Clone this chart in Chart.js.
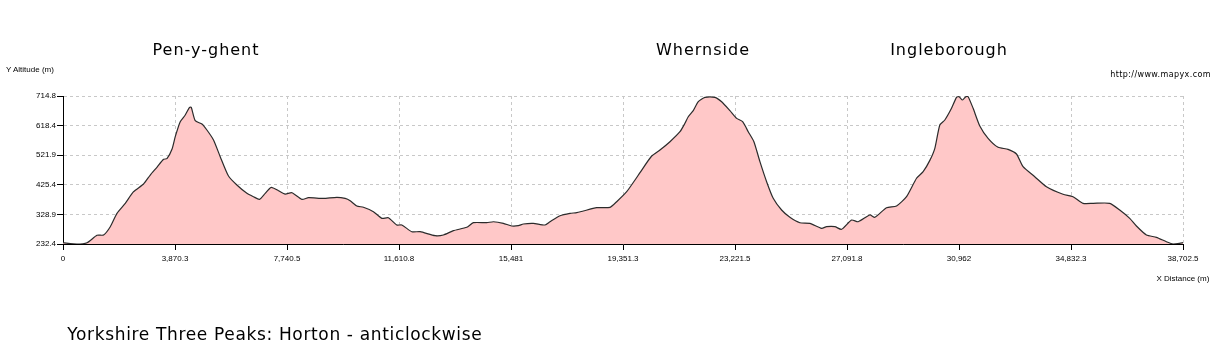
<!DOCTYPE html>
<html>
<head>
<meta charset="utf-8">
<script src="https://cdn.jsdelivr.net/npm/chart.js@4"></script>
<style>
  body { margin: 0; background: #fff; }
  #wrap { position: relative; width: 1219px; height: 350px; }
  #profile { position: absolute; left: 0; top: 0; }
  .txt { position: absolute; white-space: nowrap; line-height: 1; color: #000; }
  .small { font-family: "Liberation Sans", sans-serif; font-size: 8px; }
  .peak { font-family: "DejaVu Sans", sans-serif; font-size: 16px; letter-spacing: 1px; transform: translateX(-50%); }
</style>
</head>
<body>
<div id="wrap">
  <canvas id="profile" width="1219" height="350"></canvas>
  <div class="txt small" style="left:6px; top:65.9px;">Y Altitude (m)</div>
  <div class="txt" style="right:8px; top:70.5px; font-family:'DejaVu Sans',sans-serif; font-size:8px; letter-spacing:0.4px;">http://www.mapyx.com</div>
  <div class="txt small" style="right:9.7px; top:274.9px;">X Distance (m)</div>
  <div class="txt peak" style="left:206px; top:42.2px;">Pen-y-ghent</div>
  <div class="txt peak" style="left:703px; top:42.2px;">Whernside</div>
  <div class="txt peak" style="left:949px; top:42.2px;">Ingleborough</div>
  <div class="txt" style="left:67.3px; top:326.3px; font-family:'DejaVu Sans',sans-serif; font-size:17px; letter-spacing:0.65px;">Yorkshire Three Peaks: Horton - anticlockwise</div>
</div>
<script>
// Route profile: distance along the route (m) and altitude (m)
const distances = [
  0, 483, 829, 1174, 1402, 1634, 1865, 2152, 2438, 2784, 3015, 3246, 3474, 3592, 3765, 3879,
  4051, 4224, 4372, 4431, 4569, 4801, 4973, 5201, 5433, 5719, 6009, 6355, 6583, 6790, 6987,
  7194, 7446, 7678, 7909, 8254, 8482, 9000, 9463, 9750, 9923, 10154, 10382, 10727, 11017,
  11245, 11535, 11708, 12053, 12340, 12858, 13145, 13490, 13953, 14181, 14644, 14872, 15217,
  15507, 15735, 15908, 16253, 16657, 16830, 17175, 17521, 17752, 17980, 18443, 18902, 19133,
  19479, 19766, 19938, 20342, 20629, 20974, 21320, 21492, 21606, 21779, 21952, 22183, 22529,
  22760, 23047, 23278, 23485, 23679, 23875, 24083, 24314, 24542, 24832, 25119, 25464, 25810,
  26214, 26386, 26673, 26904, 27250, 27478, 27882, 28055, 28458, 28804, 29149, 29495, 29723,
  29954, 30127, 30299, 30472, 30703, 30876, 30966, 31083, 31197, 31277, 31450, 31681, 31967,
  32313, 32658, 32948, 33176, 33580, 33984, 34558, 34903, 35249, 35594, 36171, 36516, 36862,
  37093, 37438, 37784, 38129, 38357, 38702.5
];
const altitudes = [
  236.6, 232.4, 236.6, 260.7, 261.7, 288.8, 332.4, 365, 402.9, 428, 457.3, 482.4, 508.5, 510.5, 541, 582.2,
  631, 652.9, 678, 678, 634.3, 623.5, 604, 571.4, 517, 454, 424.7, 397.6, 386.6, 378, 397.6,
  417, 406, 395, 399.6, 378, 383.3, 381, 384.6, 381, 373.5, 356.3, 352, 337.7, 316,
  318, 294.3, 294.3, 272.5, 272.5, 259.5, 261.7, 275.8, 286.8, 301.8, 301.8, 305, 299.8,
  291, 292, 297.6, 299.8, 294.3, 305, 324.6, 332.4, 334.4, 340, 350.7, 352, 370.3,
  402.9, 441, 465, 519.2, 538.8, 565.9, 598.4, 625.8, 647.3, 666.9, 696.2, 710.5, 710.5,
  696, 667, 642, 631, 598.4, 565.9, 500.7, 435.5, 381.4, 343.2, 319.4, 301.8, 299.8,
  283.6, 288.8, 288.8, 280.3, 310.6, 305, 327, 319.4, 350.7, 356.3, 386.6, 446.6, 468,
  505, 544.3, 620.3, 636.6, 674.7, 710.5, 712.5, 701.8, 712.5, 712.5, 674.7, 617, 576.9,
  547.6, 541, 525.8, 484.4, 451.8, 419.2, 394.4, 386.6, 365, 365, 365, 343.2, 316,
  291, 261.7, 254.2, 239.9, 232.4, 236.6
];
const xTicks = [0, 3870.3, 7740.5, 11610.8, 15481, 19351.3, 23221.5, 27091.8, 30962, 34832.3, 38702.5];
const yTicks = [232.4, 328.9, 425.4, 521.9, 618.4, 714.8];

const points = distances.map((d, i) => ({ x: d, y: altitudes[i] }));

const tickFont = { family: 'Liberation Sans', size: 8 };
const gridOpts = { color: '#c8c8c8', tickColor: '#000', tickLength: 6, tickWidth: 1 };
const borderOpts = { color: '#000', width: 1, dash: [3, 3] };

new Chart(document.getElementById('profile').getContext('2d'), {
    type: 'line',
    data: {
        datasets: [{
            data: points,
            borderColor: '#2b2b2b',
            borderWidth: 1.2,
            backgroundColor: '#ffc8c8',
            fill: 'start',
            pointRadius: 0,
            tension: 0.2
        }]
    },
    options: {
        responsive: false,
        animation: false,
        plugins: { legend: { display: false }, tooltip: { enabled: false } },
        layout: { padding: { top: 96, right: 36, left: 0, bottom: 0 } },
        scales: {
            x: {
                type: 'linear',
                min: 0,
                max: 38702.5,
                grid: gridOpts,
                border: borderOpts,
                afterBuildTicks: scale => { scale.ticks = xTicks.map(v => ({ value: v })); },
                afterFit: scale => { scale.height = 106; },
                ticks: {
                    font: tickFont,
                    color: '#000',
                    padding: 4,
                    maxRotation: 0,
                    autoSkip: false,
                    callback: v => v.toLocaleString('en-US', { maximumFractionDigits: 1 })
                }
            },
            y: {
                min: 232.4,
                max: 714.8,
                grid: gridOpts,
                border: borderOpts,
                afterBuildTicks: scale => { scale.ticks = yTicks.map(v => ({ value: v })); },
                afterFit: scale => { scale.width = 63; },
                ticks: {
                    font: tickFont,
                    color: '#000',
                    padding: 1,
                    autoSkip: false,
                    callback: v => v.toFixed(1)
                }
            }
        }
    }
});
</script>
</body>
</html>
